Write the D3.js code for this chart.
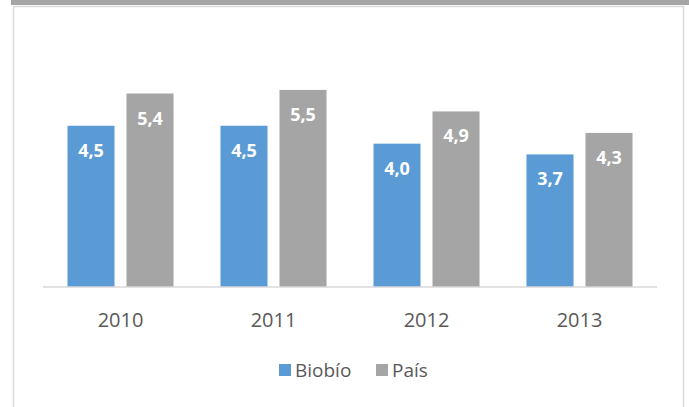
<!DOCTYPE html>
<html><head><meta charset="utf-8">
<script src="https://cdn.jsdelivr.net/npm/d3@7/dist/d3.min.js"></script>
<style>body{margin:0;background:#fff;} svg{display:block;}</style>
</head><body>
<svg id="c" width="689" height="407"></svg>
<script>
const years = ["2010","2011","2012","2013"];
const seriesNames = ["Biobío","País"];
const biobio = [4.5,4.5,4.0,3.7];
const pais = [5.4,5.5,4.9,4.3];
const colors = ["#5B9BD5","#A5A5A5"];

const svg = d3.select("#c");
const W = 689, H = 407;
// background band and frame
svg.append("rect").attr("x",11).attr("y",0).attr("width",W-11).attr("height",5).attr("fill","#A5A5A5");
svg.append("rect").attr("x",13.5).attr("y",6.5).attr("width",670).attr("height",H).attr("fill","#fff").attr("stroke","#d9d9d9").attr("stroke-width",1.5);

const x0 = d3.scaleBand().domain(years).range([44,656]).paddingInner(0.307).paddingOuter(0.1535);
const x1 = d3.scaleBand().domain(seriesNames).range([0,x0.bandwidth()]).paddingInner(0.203);
const y = d3.scaleLinear().domain([0,6]).range([287,72]);

const data = years.map((yr,i)=>({year:yr, vals:[biobio[i],pais[i]]}));

const g = svg.append("g");
const groups = g.selectAll("g.grp").data(data).join("g").attr("class","grp")
  .attr("transform",d=>`translate(${x0(d.year)},0)`);
groups.selectAll("rect").data(d=>d.vals.map((v,k)=>({v,k})))
  .join("rect")
  .attr("x",d=>x1(seriesNames[d.k]))
  .attr("y",d=>y(d.v))
  .attr("width",x1.bandwidth())
  .attr("height",d=>y(0)-y(d.v))
  .attr("fill",d=>colors[d.k]);
groups.selectAll("text").data(d=>d.vals.map((v,k)=>({v,k})))
  .join("text")
  .attr("x",d=>x1(seriesNames[d.k])+x1.bandwidth()/2)
  .attr("y",d=>y(d.v)+31)
  .attr("text-anchor","middle")
  .attr("fill","#fff")
  .attr("font-family","'Open Sans', sans-serif")
  .attr("font-weight","bold")
  .attr("font-size","18px")
  .text(d=>d3.format(".1f")(d.v).replace(".",","));

// axis
const xAxis = d3.axisBottom(x0).tickSize(0).tickPadding(0);
const ax = svg.append("g").attr("transform","translate(0,287)").call(xAxis);
ax.select(".domain").attr("stroke","#d9d9d9").attr("stroke-width",1.5).attr("d","M43,0H657");
ax.selectAll("text").attr("font-family","'Open Sans', sans-serif").attr("font-size","20px")
  .attr("fill","#595959").attr("dy","0").attr("y",40);

// legend
const leg = svg.append("g");
const legX = [279, 376];
seriesNames.forEach((n,i)=>{
  leg.append("rect").attr("x",legX[i]).attr("y",364).attr("width",12).attr("height",12).attr("fill",colors[i]);
  leg.append("text").attr("x",legX[i]+16).attr("y",377).attr("font-family","'Open Sans', sans-serif")
    .attr("font-size","19px").attr("fill","#595959").text(n);
});
</script>
</body></html>
